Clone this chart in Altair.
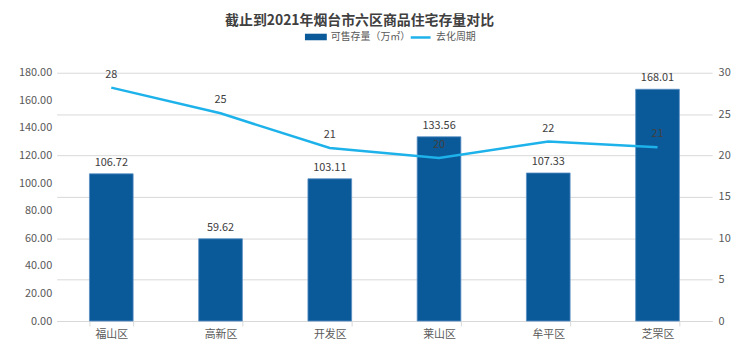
import altair as alt
import pandas as pd

categories = ["福山区", "高新区", "开发区", "莱山区", "牟平区", "芝罘区"]
stock = [106.72, 59.62, 103.11, 133.56, 107.33, 168.01]
cycle = [28.2, 25.1, 20.9, 19.7, 21.7, 21.0]
left_ticks = [0, 20, 40, 60, 80, 100, 120, 140, 160, 180]
right_ticks = [0, 5, 10, 15, 20, 25, 30]
bar_name = "可售存量（万㎡）"
line_name = "去化周期"
title_text = "截止到2021年烟台市六区商品住宅存量对比"

df = pd.DataFrame({
    "区域": categories,
    "可售存量": stock,
    "去化周期": cycle,
    "s1": bar_name,
    "s2": line_name,
})

FONT = "Noto Sans CJK SC"
BAR = "#0A5A9A"
LINE = "#1EB2EA"
TXT = "#595959"
GRID = "#d9d9d9"

base = alt.Chart(df)

x = alt.X(
    "区域:N", sort=categories,
    scale=alt.Scale(paddingInner=0.6, paddingOuter=0.3),
    axis=alt.Axis(title=None, labelAngle=0, tickBand="extent", domainColor=GRID,
                  tickColor=GRID, tickSize=5, labelFontSize=11, labelColor=TXT,
                  labelPadding=3, labelFont=FONT),
)

yL = alt.Y(
    "可售存量:Q",
    scale=alt.Scale(domain=[0, 180], nice=False),
    axis=alt.Axis(title=None, values=left_ticks, format=".2f", grid=False, domain=False,
                  ticks=False, labelPadding=5, labelFontSize=11, labelColor=TXT, labelFont=FONT),
)

yR = alt.Y(
    "去化周期:Q",
    scale=alt.Scale(domain=[0, 30], nice=False),
    axis=alt.Axis(title=None, orient="right", values=right_ticks, grid=True, gridColor=GRID,
                  gridWidth=1, domain=False, ticks=False, labelPadding=6, labelFontSize=11,
                  labelColor=TXT, labelFont=FONT),
)

bars = base.mark_bar(stroke="#5a8fc4", strokeWidth=0.8).encode(
    x=x, y=yL,
    color=alt.Color("s1:N", scale=alt.Scale(range=[BAR]), legend=alt.Legend(
        orient="none", legendX=250, legendY=-47, title=None,
        symbolType="M-1,-0.3L1,-0.3L1,0.3L-1,0.3Z", symbolSize=484, symbolStrokeWidth=0,
        labelFontSize=10, labelColor=TXT, labelFont=FONT)),
)
bar_labels = base.mark_text(baseline="bottom", dy=-6, fontSize=11, color="#404040", font=FONT).encode(
    x=x, y=yL, text=alt.Text("可售存量:Q", format=".2f"))

line = base.mark_line(strokeWidth=2.5).encode(
    x=x, y=yR,
    stroke=alt.Stroke("s2:N", scale=alt.Scale(range=[LINE]), legend=alt.Legend(
        orient="none", legendX=355, legendY=-47, title=None,
        symbolType="stroke", symbolSize=400, symbolStrokeWidth=2.5,
        labelFontSize=10, labelColor=TXT, labelFont=FONT)),
)
line_labels = base.mark_text(baseline="bottom", dy=-8, fontSize=11, color="#404040", font=FONT).encode(
    x=x, y=yR, text=alt.Text("去化周期:Q", format=".0f"))

left = alt.layer(bars, bar_labels)
right = alt.layer(line, line_labels)

chart = alt.layer(left, right).resolve_scale(y="independent", color="independent").properties(
    width=660, height=250,
    autosize=alt.AutoSizeParams(type="none"),
    padding={"left": 49, "top": 64, "right": 20, "bottom": 30},
    title=alt.TitleParams(title_text, fontSize=14, fontWeight="bold", color="#404040",
                          font=FONT, anchor="middle", dx=-25, offset=-2),
).configure_view(stroke=None)

chart.save("out.html", embed_options={"renderer": "svg", "actions": False})
